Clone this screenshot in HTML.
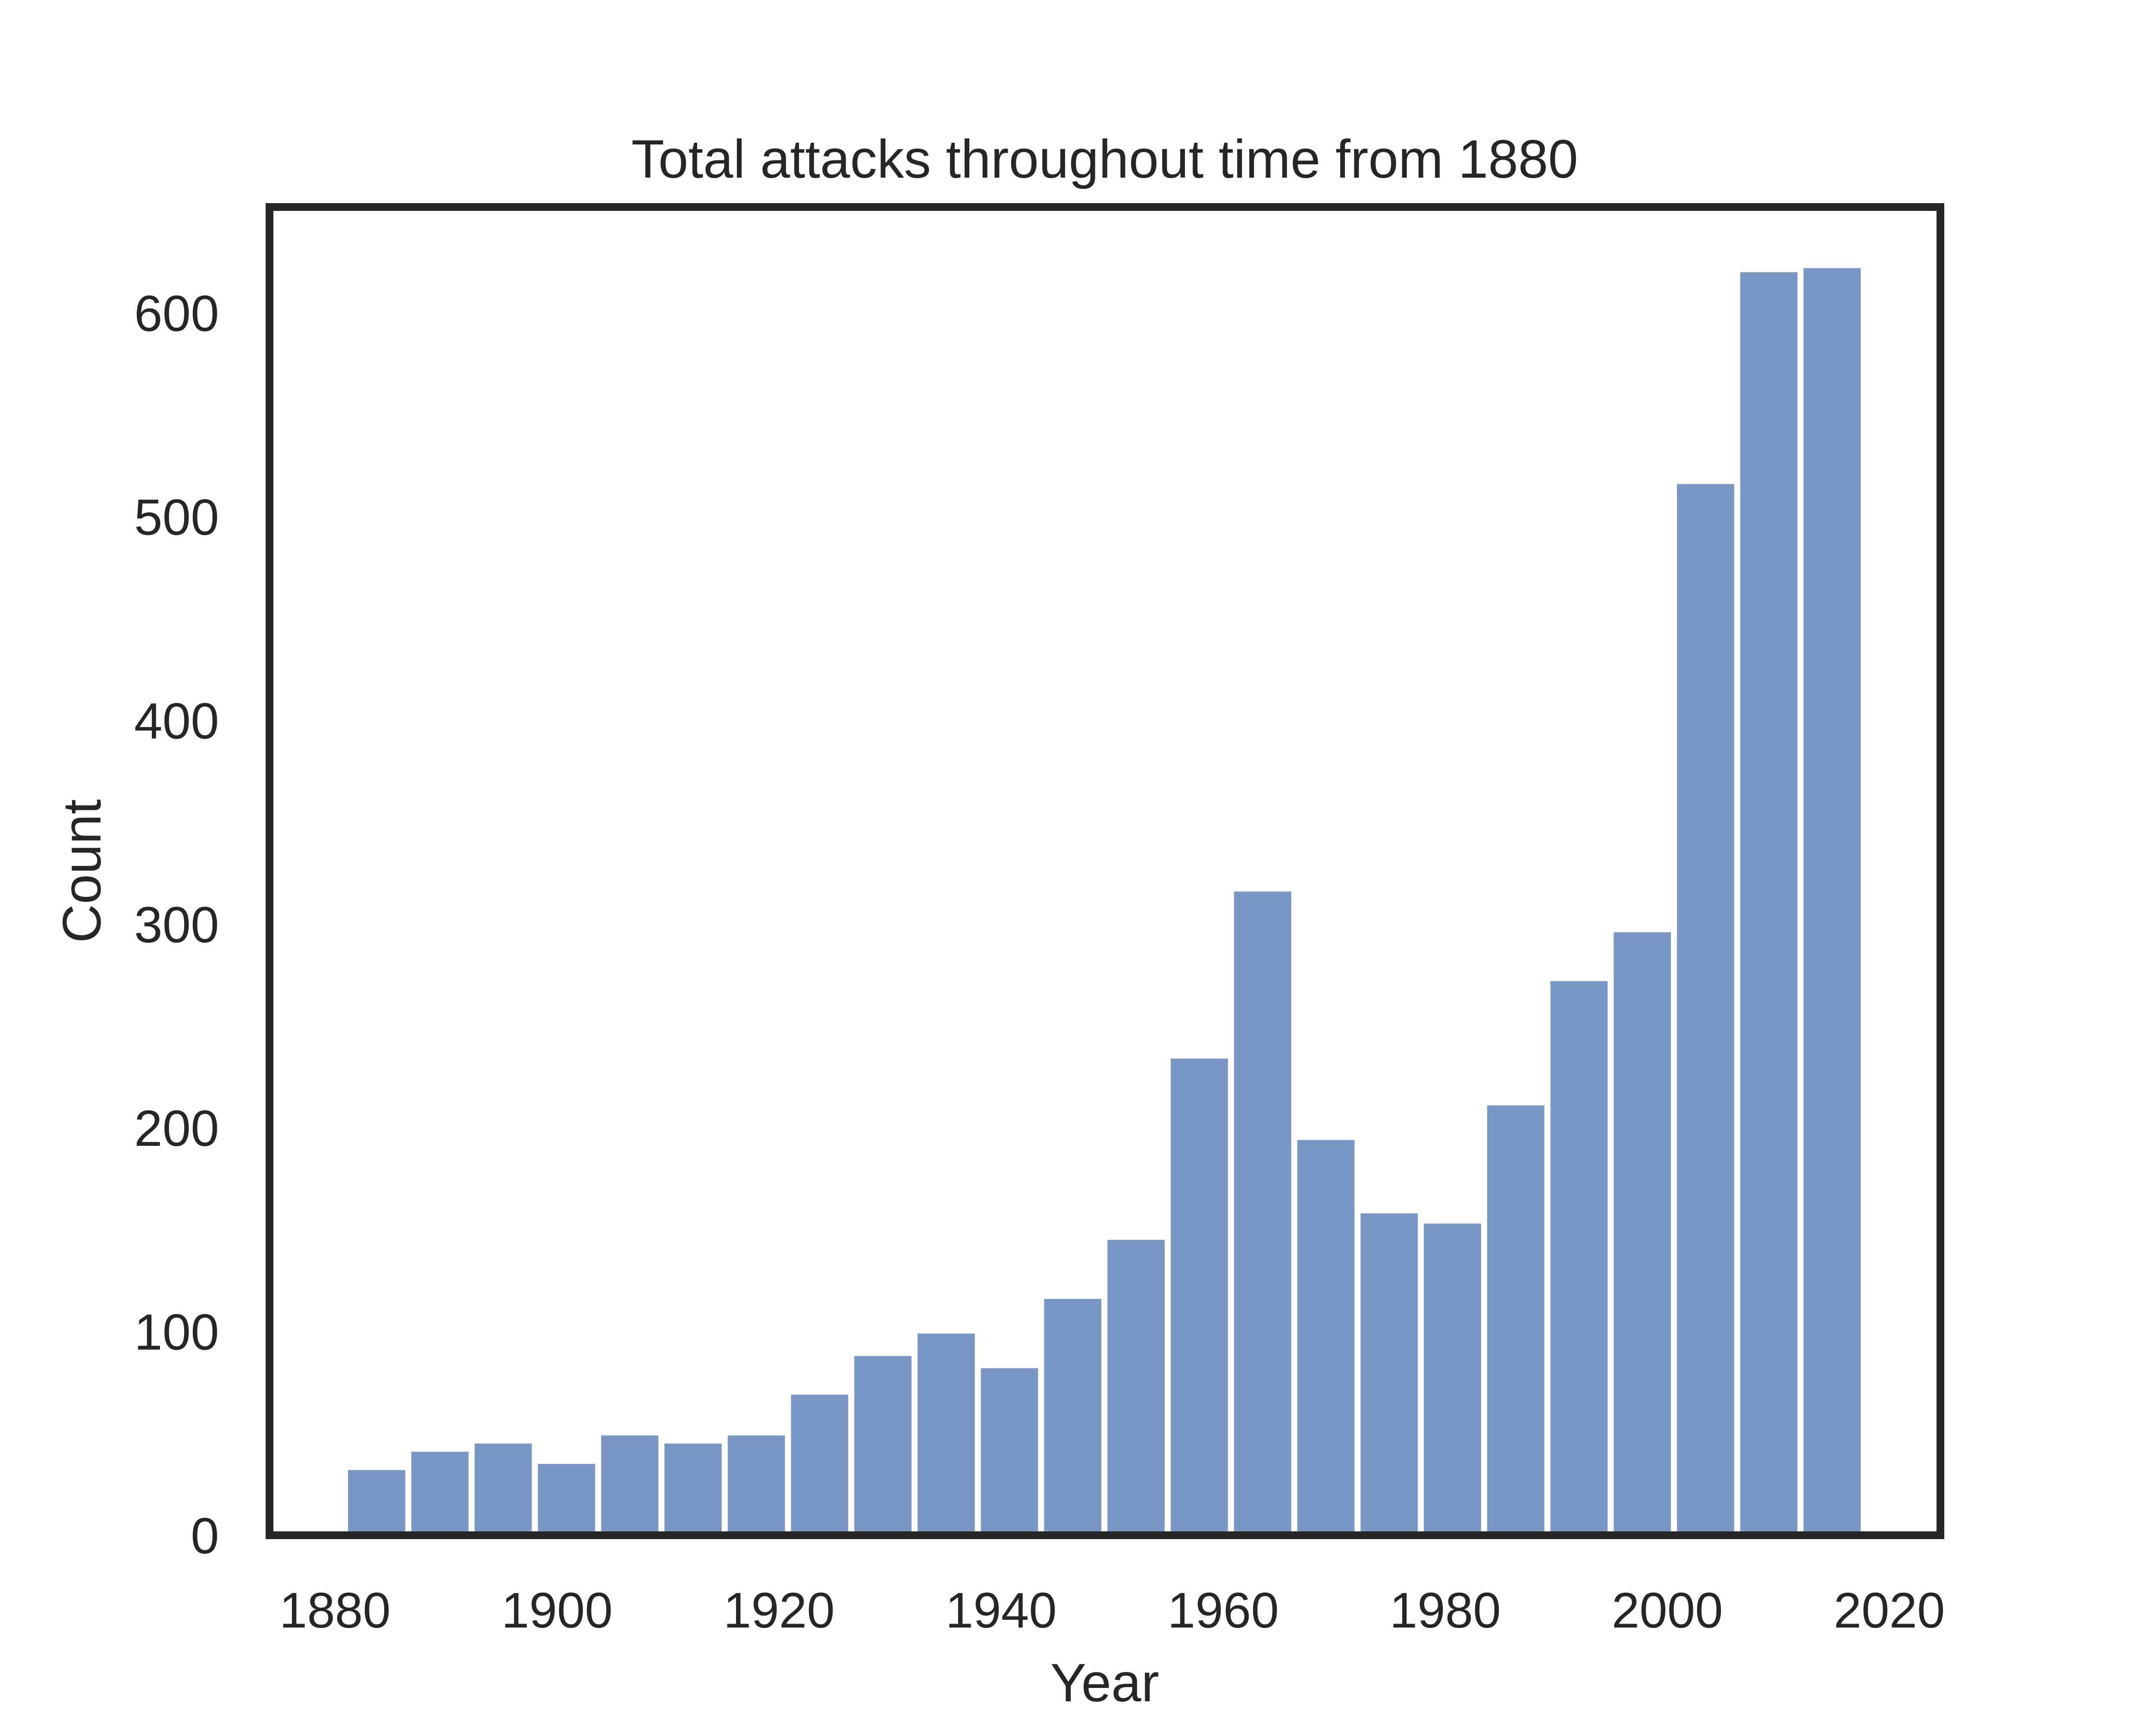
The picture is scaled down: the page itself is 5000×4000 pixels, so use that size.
<!DOCTYPE html>
<html><head><meta charset="utf-8"><style>
html,body{margin:0;padding:0;background:#fff}
svg{display:block}
text{font-family:"Liberation Sans",Arial,sans-serif;fill:#262626}
</style></head><body>
<svg id="chart" width="5000" height="4000" viewBox="0 0 5000 4000" xmlns="http://www.w3.org/2000/svg">
<rect width="5000" height="4000" fill="#fff"/>
<g id="bars"></g>
<g id="xticks"></g>
<g id="yticks"></g>
<rect x="625" y="480" width="3875" height="3080" fill="none" stroke="#262626" stroke-width="18"/>
<text x="2562" y="412" font-size="125" text-anchor="middle">Total attacks throughout time from 1880</text>
<text x="2562" y="3945" font-size="125" text-anchor="middle">Year</text>
<text x="0" y="0" font-size="125" text-anchor="middle" transform="translate(233,2020) rotate(-90)">Count</text>
</svg>
<script>
const counts = [32,41,45,35,49,45,49,69,88,99,82,116,145,234,316,194,158,153,211,272,296,516,620,622];
const binStart = 1880.9;
const binWidth = 5.7;
const xTicks = [1880,1900,1920,1940,1960,1980,2000,2020];
const yTicks = [0,100,200,300,400,500,600];
const L=625,R=4500,T=480,B=3560;
const xMin=1874.1,xMax=2024.6,yMax=652;
function xs(v){return L+(v-xMin)/(xMax-xMin)*(R-L);}
function ys(v){return B-v/yMax*(B-T);}
const NS='http://www.w3.org/2000/svg';
const bars=document.getElementById('bars');
counts.forEach((c,i)=>{
  const x0=xs(binStart+i*binWidth), x1=xs(binStart+(i+1)*binWidth);
  const r=document.createElementNS(NS,'rect');
  r.setAttribute('x',x0+7);r.setAttribute('width',x1-x0-14);
  r.setAttribute('y',ys(c));r.setAttribute('height',B-ys(c));
  r.setAttribute('fill','#7996c4');
  
  
  bars.appendChild(r);
});
const xg=document.getElementById('xticks');
xTicks.forEach(t=>{
  const e=document.createElementNS(NS,'text');
  e.setAttribute('x',xs(t));e.setAttribute('y',3774);
  e.setAttribute('font-size','116');e.setAttribute('text-anchor','middle');
  e.textContent=t;
  
  
  xg.appendChild(e);
});
const yg=document.getElementById('yticks');
yTicks.forEach(t=>{
  const e=document.createElementNS(NS,'text');
  e.setAttribute('x',508);e.setAttribute('y',ys(t)+42);
  e.setAttribute('font-size','118');e.setAttribute('text-anchor','end');
  e.textContent=t;
  
  
  yg.appendChild(e);
});
</script>
</body></html>
